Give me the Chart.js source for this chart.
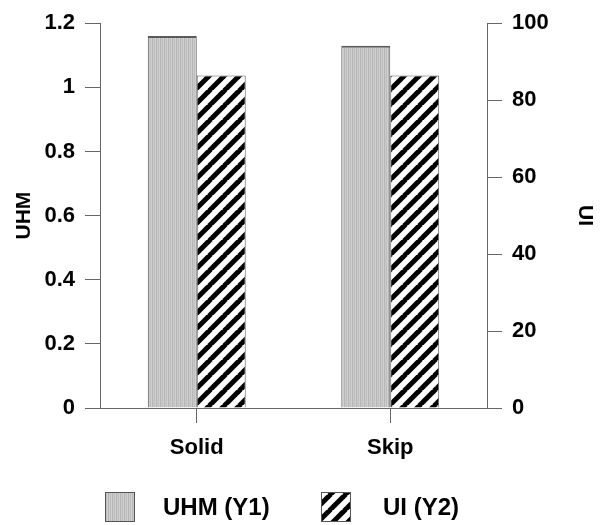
<!DOCTYPE html>
<html>
<head>
<meta charset="utf-8">
<script src="https://cdn.jsdelivr.net/npm/chart.js@4/dist/chart.umd.min.js"></script>
<style>
  html, body { margin: 0; padding: 0; background: #fff; }
  #c { display: block; }
</style>
</head>
<body>
<canvas id="c" width="604" height="525"></canvas>
<script>
// Categories and series
const categories = ['Solid', 'Skip'];
const uhmValues = [1.16, 1.13];   // left axis (Y1)
const uiValues = [86.4, 86.4];    // right axis (Y2)

// Axis ticks
const uhmTicks = [0, 0.2, 0.4, 0.6, 0.8, 1, 1.2];
const uiTicks = [0, 20, 40, 60, 80, 100];

const seriesNames = ['UHM (Y1)', 'UI (Y2)'];

const FONT = "'Liberation Sans', Arial, sans-serif";
const AXIS = '#666666';

// Fine vertical-striped light grey fill
function greyPattern() {
  const t = document.createElement('canvas');
  t.width = 4; t.height = 4;
  const g = t.getContext('2d');
  const cols = ['#b6b6b6', '#cacaca', '#bfbfbf', '#d0d0d0'];
  cols.forEach((c, i) => { g.fillStyle = c; g.fillRect(i, 0, 1, 4); });
  return g.createPattern(t, 'repeat');
}

// Black "/" diagonal hatching on white
function hatchPattern() {
  const s = 15;
  const t = document.createElement('canvas');
  t.width = s; t.height = s;
  const g = t.getContext('2d');
  g.fillStyle = '#fff';
  g.fillRect(0, 0, s, s);
  g.strokeStyle = '#000';
  g.lineWidth = 5;
  for (let k = -1; k <= 1; k++) {
    g.beginPath();
    g.moveTo(k * s - 1, s + 1);
    g.lineTo(k * s + s + 1, -1);
    g.stroke();
  }
  return g.createPattern(t, 'repeat');
}

const greyFill = greyPattern();
const hatchFill = hatchPattern();

// Legend drawn under the axis: swatch + label per series
const bottomLegend = {
  id: 'bottomLegend',
  afterDraw(chart) {
    const ctx = chart.ctx;
    const items = [
      { x: 105, text: 163, fill: greyFill, label: seriesNames[0] },
      { x: 321, text: 383, fill: hatchFill, label: seriesNames[1] }
    ];
    const y = 492, size = 30;
    ctx.save();
    items.forEach(it => {
      ctx.fillStyle = it.fill;
      ctx.fillRect(it.x, y, size, size);
      ctx.strokeStyle = '#555';
      ctx.lineWidth = 1;
      ctx.strokeRect(it.x + 0.5, y + 0.5, size - 1, size - 1);
      ctx.fillStyle = '#000';
      ctx.font = 'bold 24px ' + FONT;
      ctx.textBaseline = 'middle';
      ctx.textAlign = 'left';
      ctx.fillText(it.label, it.text, y + size / 2 + 1);
    });
    ctx.restore();
  }
};

new Chart(document.getElementById('c'), {
  type: 'bar',
  data: {
    labels: categories,
    datasets: [
      {
        label: seriesNames[0],
        data: uhmValues,
        yAxisID: 'y',
        backgroundColor: greyFill,
        borderColor: '#5a5a5a',
        borderWidth: { top: 2, left: 1, right: 1, bottom: 0 },
        categoryPercentage: 0.506,
        barPercentage: 1
      },
      {
        label: seriesNames[1],
        data: uiValues,
        yAxisID: 'y1',
        backgroundColor: hatchFill,
        borderColor: '#5a5a5a',
        borderWidth: { top: 1, left: 1, right: 1, bottom: 0 },
        categoryPercentage: 0.506,
        barPercentage: 1
      }
    ]
  },
  options: {
    responsive: false,
    animation: false,
    layout: { padding: { top: 19, left: 0, right: 0, bottom: 0 } },
    plugins: {
      legend: { display: false },
      tooltip: { enabled: false }
    },
    scales: {
      x: {
        offset: true,
        grid: { display: true, offset: false, drawOnChartArea: false, tickLength: 15, color: AXIS },
        border: { display: true, color: AXIS, width: 1 },
        ticks: { color: '#000', font: { family: FONT, size: 22, weight: 'bold' }, padding: 12 },
        afterFit(s) { s.height = 117; }
      },
      y: {
        position: 'left',
        min: 0, max: 1.2,
        afterBuildTicks(s) { s.ticks = uhmTicks.map(v => ({ value: v })); },
        grid: { display: true, drawOnChartArea: false, tickLength: 15, color: AXIS },
        border: { display: true, color: AXIS, width: 1 },
        ticks: {
          color: '#000', padding: 10,
          font: { family: FONT, size: 22, weight: 'bold' },
          callback: v => String(Math.round(v * 10) / 10)
        },
        title: {
          display: true, text: 'UHM', color: '#000',
          font: { family: FONT, size: 21, weight: 'bold' },
          padding: { top: 12, bottom: 0 }
        },
        afterFit(s) { s.width = 100; }
      },
      y1: {
        position: 'right',
        min: 0, max: 100,
        afterBuildTicks(s) { s.ticks = uiTicks.map(v => ({ value: v })); },
        grid: { display: true, drawOnChartArea: false, tickLength: 15, color: AXIS },
        border: { display: true, color: AXIS, width: 1 },
        ticks: {
          color: '#000', padding: 10,
          font: { family: FONT, size: 22, weight: 'bold' }
        },
        title: {
          display: true, text: 'UI', color: '#000',
          font: { family: FONT, size: 21, weight: 'bold' },
          padding: { top: 7, bottom: 0 }
        },
        afterFit(s) { s.width = 117; }
      }
    }
  },
  plugins: [bottomLegend]
});
</script>
</body>
</html>
